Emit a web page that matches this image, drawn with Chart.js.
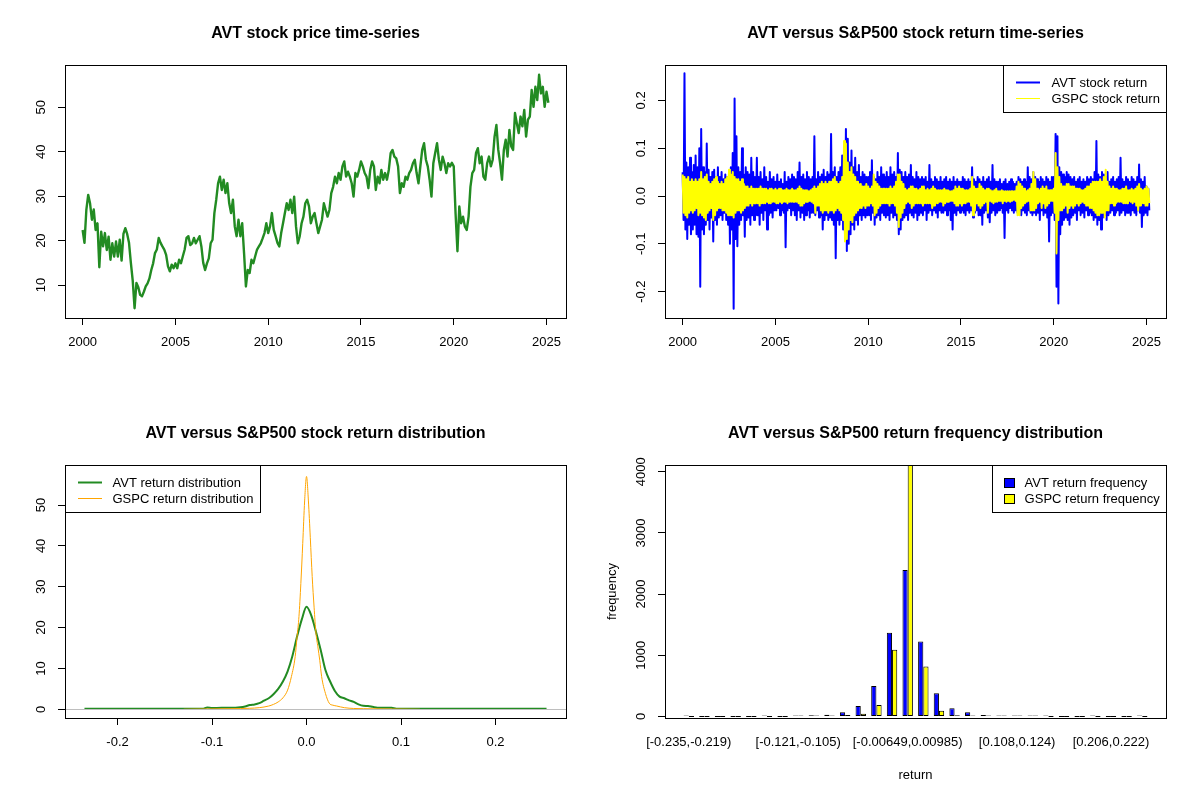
<!DOCTYPE html>
<html>
<head>
<meta charset="utf-8">
<script src="https://cdn.jsdelivr.net/npm/chart.js@4.4.1/dist/chart.umd.min.js"></script>
<style>
html,body{margin:0;padding:0;background:#ffffff;}
#wrap{position:relative;width:1200px;height:800px;background:#fff;overflow:hidden;}
.panel{position:absolute;width:600px;height:400px;}
canvas{display:block;}
</style>
</head>
<body>
<div id="wrap">
  <div class="panel" style="left:0;top:0"><canvas id="c1" width="600" height="400"></canvas></div>
  <div class="panel" style="left:600px;top:0"><canvas id="c2" width="600" height="400"></canvas></div>
  <div class="panel" style="left:0;top:400px"><canvas id="c3" width="600" height="400"></canvas></div>
  <div class="panel" style="left:600px;top:400px"><canvas id="c4" width="600" height="400"></canvas></div>
</div>
<script>
// ================= DATA =================
// Panel 1: AVT price, sampled every 0.1 year from 2000.0
const priceStartYear = 2000.0;
const priceStepYears = 0.1;
const priceValues = [
  22.4,19.5,26.9,30.3,28.4,24.7,27,22.4,23.9,14.0,
  22,18.7,21.7,17.9,20.9,15.7,19.4,16.4,19.8,16.4,
  20.2,15.5,21.5,22.8,21.5,19.5,15,11,4.8,10.5,
  9.5,7.8,7.5,8.5,9.7,10.4,11.5,13.4,14.9,17.2,
  18,20.6,19.5,18.7,18,16.8,14.2,13.1,14.6,13.8,
  14.9,13.8,15.7,14.9,16.5,18,20.6,21,19,19.4,
  20.6,19.4,20.2,21,18.7,15,13.4,14.9,16,19.4,
  20.2,26.2,29.2,32.9,34.4,31.4,33.7,30.7,32.9,28.4,
  26.2,29.2,23.2,21,24.7,21,23.9,17.2,9.7,13.4,
  12.7,15.7,14.9,16.5,18,18.7,19.4,20.5,21.7,23.9,
  21.7,23.2,26.2,22.4,21,19.5,18.7,21.7,23.9,26.2,
  28.4,26.9,29.2,26.2,29.9,23.2,19.4,21,23.9,25.4,
  28.4,29.2,27.7,23.9,25.4,26.2,23.9,21.7,23.2,24.7,
  28.4,26.9,25.4,26.9,30.7,32.1,34.4,32.9,35.2,33.7,
  36.7,37.8,34.4,35.5,34.4,32.9,29.9,35.2,34.4,35.9,
  37.8,36.7,35.2,34.4,31.8,35.9,37.8,36.7,31.4,34.4,
  32.9,35.9,33.7,35.2,33.7,35.9,39.7,40.4,38.9,38.5,
  36.7,30.7,32.9,32.1,34.4,33.7,35.2,35.9,37.4,38.2,
  35.2,32.9,36.7,40.4,41.9,38.2,36.7,33.7,29.9,37.4,
  39.7,41.9,38.2,35.9,38.9,37.4,35.2,37.4,36.7,37.5,
  36.7,26,17.6,27.7,23.9,25.4,23.2,22.4,25.4,32.1,
  35.2,35.9,39.7,40.8,37.4,38.9,34.4,33.7,37.4,38.9,
  36.7,38.2,43.4,46,40.4,37.4,33.7,40.4,42.7,38.9,
  44.9,41.2,40.4,48.7,46.4,44.2,47.9,45.7,49.4,43.4,
  47.2,47.9,53.9,50.1,54.6,51.6,57.3,53.1,54.6,50.1,
  53.5,51
];
const yearTicks = [2000, 2005, 2010, 2015, 2020, 2025];
const priceTicks = [10, 20, 30, 40, 50];

// Panel 2: daily return extremes per 0.1-year slice (high then low)
const returnStartYear = 2000.0;
const returnStepYears = 0.1;
const avtReturnHigh = [
  0.05,0.257,0.07,0.06,0.08,0.05,0.065,0.085,0.06,0.10,
  0.14,0.06,0.05,0.11,0.055,0.04,0.05,0.055,0.04,0.06,
  0.04,0.05,0.035,0.045,0.04,0.05,0.06,0.09,0.204,0.125,
  0.06,0.05,0.1,0.045,0.06,0.05,0.045,0.08,0.05,0.04,
  0.08,0.04,0.05,0.035,0.06,0.04,0.03,0.05,0.035,0.04,
  0.03,0.045,0.03,0.035,0.025,0.05,0.03,0.04,0.035,0.045,
  0.04,0.035,0.05,0.07,0.04,0.045,0.035,0.05,0.04,0.035,
  0.04,0.125,0.035,0.05,0.04,0.045,0.055,0.04,0.05,0.045,
  0.13,0.05,0.06,0.04,0.05,0.06,0.085,0.05,0.14,0.12,
  0.07,0.095,0.06,0.08,0.05,0.065,0.04,0.05,0.045,0.04,
  0.04,0.05,0.075,0.04,0.035,0.05,0.04,0.06,0.045,0.04,
  0.05,0.04,0.06,0.045,0.05,0.04,0.09,0.055,0.05,0.04,
  0.05,0.04,0.045,0.065,0.04,0.035,0.05,0.04,0.035,0.04,
  0.035,0.04,0.03,0.065,0.035,0.03,0.04,0.035,0.03,0.04,
  0.03,0.035,0.04,0.03,0.035,0.03,0.04,0.03,0.035,0.03,
  0.03,0.04,0.035,0.03,0.035,0.03,0.06,0.035,0.03,0.04,
  0.035,0.03,0.04,0.03,0.035,0.04,0.03,0.065,0.035,0.03,
  0.03,0.035,0.025,0.03,0.035,0.025,0.03,0.035,0.03,0.025,
  0.03,0.04,0.035,0.03,0.035,0.03,0.06,0.04,0.035,0.05,
  0.04,0.035,0.03,0.04,0.035,0.03,0.04,0.035,0.03,0.04,
  0.04,0.13,0.125,0.06,0.05,0.045,0.04,0.05,0.045,0.04,
  0.035,0.04,0.03,0.035,0.04,0.03,0.035,0.03,0.04,0.035,
  0.04,0.035,0.05,0.115,0.045,0.04,0.05,0.045,0.04,0.05,
  0.03,0.035,0.04,0.03,0.035,0.04,0.08,0.035,0.03,0.04,
  0.035,0.03,0.04,0.035,0.03,0.04,0.066,0.035,0.03,0.04,
  0.02,0.015
];
const avtReturnLow = [
  -0.05,-0.07,-0.09,-0.06,-0.08,-0.07,-0.06,-0.08,-0.085,-0.19,
  -0.07,-0.08,-0.06,-0.05,-0.07,-0.045,-0.095,-0.05,-0.06,-0.045,
  -0.04,-0.05,-0.035,-0.05,-0.06,-0.1,-0.07,-0.236,-0.09,-0.105,
  -0.06,-0.05,-0.04,-0.085,-0.05,-0.045,-0.06,-0.04,-0.05,-0.04,
  -0.04,-0.06,-0.035,-0.05,-0.03,-0.07,-0.04,-0.035,-0.045,-0.03,
  -0.03,-0.025,-0.04,-0.03,-0.035,-0.107,-0.03,-0.025,-0.04,-0.03,
  -0.04,-0.05,-0.03,-0.045,-0.035,-0.05,-0.04,-0.03,-0.045,-0.035,
  -0.035,-0.04,-0.03,-0.045,-0.04,-0.07,-0.05,-0.04,-0.05,-0.045,
  -0.05,-0.06,-0.13,-0.05,-0.06,-0.05,-0.07,-0.08,-0.115,-0.1,
  -0.08,-0.06,-0.07,-0.05,-0.06,-0.04,-0.05,-0.04,-0.045,-0.04,
  -0.04,-0.05,-0.035,-0.06,-0.045,-0.04,-0.05,-0.035,-0.04,-0.045,
  -0.04,-0.05,-0.035,-0.045,-0.04,-0.05,-0.08,-0.07,-0.05,-0.045,
  -0.04,-0.05,-0.035,-0.04,-0.045,-0.035,-0.05,-0.04,-0.035,-0.04,
  -0.03,-0.05,-0.035,-0.03,-0.04,-0.03,-0.035,-0.045,-0.03,-0.035,
  -0.035,-0.03,-0.04,-0.03,-0.05,-0.07,-0.035,-0.04,-0.03,-0.035,
  -0.03,-0.035,-0.04,-0.03,-0.035,-0.03,-0.045,-0.035,-0.03,-0.04,
  -0.04,-0.06,-0.035,-0.03,-0.045,-0.055,-0.035,-0.03,-0.04,-0.035,
  -0.03,-0.025,-0.035,-0.088,-0.03,-0.035,-0.025,-0.03,-0.035,-0.03,
  -0.035,-0.03,-0.04,-0.03,-0.035,-0.04,-0.03,-0.035,-0.04,-0.035,
  -0.04,-0.035,-0.05,-0.03,-0.04,-0.035,-0.045,-0.095,-0.04,-0.035,
  -0.05,-0.19,-0.225,-0.08,-0.06,-0.05,-0.045,-0.05,-0.06,-0.045,
  -0.04,-0.035,-0.05,-0.03,-0.04,-0.035,-0.045,-0.03,-0.04,-0.035,
  -0.04,-0.05,-0.045,-0.06,-0.05,-0.07,-0.045,-0.04,-0.05,-0.04,
  -0.035,-0.03,-0.04,-0.035,-0.03,-0.04,-0.035,-0.03,-0.04,-0.035,
  -0.035,-0.04,-0.03,-0.035,-0.04,-0.03,-0.035,-0.065,-0.04,-0.035,
  -0.04,-0.03
];
const gspcReturnHigh = [
  0.045,0.04,0.035,0.04,0.03,0.035,0.03,0.035,0.03,0.035,
  0.05,0.035,0.04,0.045,0.03,0.025,0.03,0.035,0.04,0.03,
  0.025,0.03,0.025,0.035,0.04,0.055,0.045,0.05,0.04,0.035,
  0.035,0.03,0.035,0.025,0.02,0.02,0.015,0.02,0.015,0.015,
  0.015,0.015,0.02,0.015,0.015,0.015,0.012,0.015,0.015,0.012,
  0.015,0.012,0.015,0.015,0.012,0.012,0.015,0.012,0.012,0.015,
  0.012,0.012,0.015,0.02,0.015,0.012,0.012,0.012,0.01,0.012,
  0.015,0.02,0.015,0.02,0.025,0.03,0.025,0.03,0.025,0.03,
  0.03,0.035,0.04,0.03,0.025,0.03,0.04,0.115,0.11,0.07,
  0.05,0.06,0.045,0.04,0.03,0.025,0.025,0.02,0.02,0.025,
  0.02,0.015,0.02,0.045,0.03,0.025,0.02,0.015,0.015,0.015,
  0.015,0.015,0.02,0.015,0.02,0.03,0.045,0.045,0.03,0.025,
  0.015,0.012,0.015,0.02,0.02,0.015,0.015,0.012,0.015,0.02,
  0.02,0.012,0.015,0.012,0.015,0.02,0.015,0.012,0.012,0.012,
  0.012,0.015,0.012,0.012,0.01,0.01,0.012,0.02,0.015,0.02,
  0.015,0.015,0.012,0.012,0.012,0.015,0.04,0.02,0.015,0.015,
  0.025,0.02,0.015,0.012,0.015,0.015,0.012,0.01,0.012,0.015,
  0.01,0.01,0.012,0.01,0.01,0.01,0.01,0.01,0.01,0.01,
  0.02,0.03,0.025,0.02,0.015,0.01,0.012,0.015,0.025,0.05,
  0.035,0.015,0.012,0.015,0.02,0.015,0.02,0.012,0.012,0.012,
  0.015,0.09,0.06,0.04,0.025,0.02,0.02,0.025,0.025,0.02,
  0.02,0.02,0.015,0.015,0.015,0.012,0.012,0.015,0.02,0.02,
  0.025,0.03,0.03,0.03,0.03,0.035,0.03,0.04,0.055,0.03,
  0.02,0.015,0.02,0.015,0.015,0.012,0.012,0.015,0.015,0.02,
  0.012,0.012,0.015,0.012,0.015,0.02,0.025,0.015,0.012,0.015,
  0.02,0.015
];
const gspcReturnLow = [
  -0.035,-0.04,-0.045,-0.035,-0.03,-0.035,-0.03,-0.025,-0.04,-0.035,
  -0.04,-0.045,-0.05,-0.035,-0.03,-0.025,-0.05,-0.04,-0.03,-0.025,
  -0.025,-0.03,-0.03,-0.035,-0.04,-0.04,-0.04,-0.045,-0.035,-0.03,
  -0.03,-0.035,-0.03,-0.025,-0.02,-0.02,-0.015,-0.02,-0.015,-0.015,
  -0.015,-0.02,-0.015,-0.015,-0.015,-0.012,-0.015,-0.015,-0.012,-0.012,
  -0.015,-0.015,-0.012,-0.015,-0.012,-0.012,-0.015,-0.012,-0.012,-0.012,
  -0.012,-0.012,-0.015,-0.02,-0.02,-0.015,-0.012,-0.012,-0.01,-0.012,
  -0.015,-0.035,-0.02,-0.02,-0.03,-0.035,-0.03,-0.03,-0.035,-0.03,
  -0.03,-0.035,-0.03,-0.025,-0.03,-0.035,-0.05,-0.095,-0.09,-0.07,
  -0.05,-0.055,-0.04,-0.035,-0.03,-0.025,-0.025,-0.02,-0.025,-0.02,
  -0.02,-0.015,-0.02,-0.04,-0.035,-0.025,-0.02,-0.015,-0.015,-0.015,
  -0.015,-0.02,-0.015,-0.015,-0.02,-0.035,-0.065,-0.045,-0.035,-0.025,
  -0.015,-0.012,-0.015,-0.025,-0.02,-0.015,-0.015,-0.015,-0.015,-0.02,
  -0.015,-0.015,-0.015,-0.015,-0.025,-0.02,-0.015,-0.015,-0.012,-0.012,
  -0.02,-0.015,-0.012,-0.012,-0.01,-0.01,-0.015,-0.02,-0.02,-0.015,
  -0.02,-0.015,-0.015,-0.012,-0.012,-0.02,-0.04,-0.03,-0.015,-0.02,
  -0.025,-0.02,-0.015,-0.012,-0.035,-0.01,-0.012,-0.015,-0.012,-0.012,
  -0.01,-0.01,-0.015,-0.01,-0.012,-0.01,-0.012,-0.01,-0.008,-0.01,
  -0.04,-0.04,-0.025,-0.02,-0.015,-0.012,-0.01,-0.03,-0.03,-0.03,
  -0.025,-0.015,-0.012,-0.025,-0.015,-0.025,-0.02,-0.015,-0.01,-0.01,
  -0.035,-0.12,-0.05,-0.03,-0.03,-0.025,-0.02,-0.035,-0.025,-0.02,
  -0.025,-0.02,-0.015,-0.02,-0.015,-0.012,-0.015,-0.02,-0.02,-0.025,
  -0.025,-0.03,-0.035,-0.04,-0.04,-0.035,-0.035,-0.045,-0.03,-0.03,
  -0.015,-0.015,-0.02,-0.015,-0.012,-0.012,-0.012,-0.015,-0.015,-0.015,
  -0.01,-0.012,-0.015,-0.012,-0.02,-0.03,-0.02,-0.015,-0.015,-0.02,
  -0.02,-0.015
];
const returnTicks = [-0.2, -0.1, 0, 0.1, 0.2];
const returnTickLabels = ['-0.2', '-0.1', '0.0', '0.1', '0.2'];

// Panel 3: return densities
const avtDensX = [-0.235,-0.11,-0.105,-0.1,-0.09,-0.08,-0.07,-0.065,-0.06,-0.055,-0.05,-0.045,-0.04,-0.035,-0.03,-0.025,-0.02,-0.015,-0.01,-0.005,0,0.005,0.01,0.015,0.02,0.025,0.03,0.035,0.04,0.045,0.05,0.055,0.06,0.065,0.07,0.075,0.09,0.095,0.1,0.254];
const avtDensY = [0.15,0.15,0.45,0.3,0.35,0.35,0.5,0.7,1.05,1.2,1.5,2.1,2.7,3.7,5.0,6.8,9.3,13.0,17.8,22.0,25.1,23.0,19.0,14.5,9.6,6.8,4.5,3.1,2.7,2.2,1.8,1.2,0.85,0.8,0.6,0.4,0.35,0.15,0.15,0.15];
const gspcDensX = [-0.13,-0.1,-0.08,-0.06,-0.05,-0.04,-0.035,-0.03,-0.025,-0.02,-0.016,-0.012,-0.01,-0.008,-0.006,-0.004,-0.002,0,0.002,0.004,0.006,0.008,0.01,0.012,0.014,0.016,0.02,0.024,0.028,0.032,0.04,0.05,0.06,0.08,0.12];
const gspcDensY = [0,0.1,0.15,0.25,0.4,0.8,1.2,1.8,2.8,4.7,8,12.9,17.8,22.7,30.8,40.6,51,57,51,42,32.5,25,18.6,15.3,12,8,3.9,1.5,1.0,0.8,0.4,0.2,0.15,0.1,0];
const densityXTicks = [-0.2, -0.1, 0, 0.1, 0.2];
const densityXTickLabels = ['-0.2', '-0.1', '0.0', '0.1', '0.2'];
const densityYTicks = [0, 10, 20, 30, 40, 50];

// Panel 4: return frequency per bin (30 bins)
const avtFreq  = [1,0,0,0,0,1,0,12,18,30,70,173,497,1368,2395,1227,378,135,70,22,15,12,10,1,0,0,1,0,0,1];
const gspcFreq = [0,0,0,0,0,0,0,1,2,3,22,43,189,1092,4110,816,92,20,16,5,2,2,1,0,0,0,0,0,0,0];
const histLabelBins = [0, 7, 14, 21, 27];
const histLabels = ['[-0.235,-0.219)', '[-0.121,-0.105)', '[-0.00649,0.00985)', '[0.108,0.124)', '[0.206,0.222)'];
const freqTicks = [0, 1000, 2000, 3000, 4000];

// ================= STYLE / HELPERS =================
const FONT = "'Liberation Sans', Arial, Helvetica, sans-serif";
const TXT = 13;
Chart.defaults.font.family = FONT;
Chart.defaults.font.size = TXT;
Chart.defaults.color = '#000';

const framePlugin = {
  id: 'frame',
  afterDraw(chart) {
    const {ctx, chartArea: a} = chart;
    ctx.save();
    ctx.strokeStyle = '#000';
    ctx.lineWidth = 1;
    ctx.strokeRect(Math.round(a.left) + 0.5, Math.round(a.top) + 0.5,
                   Math.round(a.right) - Math.round(a.left), Math.round(a.bottom) - Math.round(a.top));
    ctx.restore();
  }
};

const zeroLinePlugin = {
  id: 'zeroLine',
  afterDatasetsDraw(chart, args, opts) {
    if (!opts || !opts.color) return;
    const {ctx, chartArea: a} = chart;
    const y = Math.round(chart.scales.y.getPixelForValue(0)) + 0.5;
    ctx.save();
    ctx.strokeStyle = opts.color;
    ctx.lineWidth = 1;
    ctx.beginPath();
    ctx.moveTo(a.left, y);
    ctx.lineTo(a.right, y);
    ctx.stroke();
    ctx.restore();
  }
};

const rLegendPlugin = {
  id: 'rlegend',
  afterDraw(chart, args, opts) {
    if (!opts || !opts.corner) return;
    const {ctx, chartArea: a} = chart;
    const items = chart.data.datasets.map(d => ({
      label: d.label,
      color: opts.symbol === 'box' ? d.backgroundColor : d.borderColor,
      width: d.legendWidth || d.borderWidth
    }));
    ctx.save();
    ctx.font = TXT + 'px ' + FONT;
    const textW = Math.max(...items.map(it => ctx.measureText(it.label).width));
    const w = Math.round(opts.textX + textW + 6.5);
    const h = 47;
    const x0 = opts.corner === 'topleft' ? Math.round(a.left) : Math.round(a.right) - w;
    const y0 = Math.round(a.top);
    ctx.fillStyle = '#fff';
    ctx.fillRect(x0, y0, w, h);
    ctx.strokeStyle = '#000';
    ctx.lineWidth = 1;
    ctx.strokeRect(x0 + 0.5, y0 + 0.5, w, h);
    items.forEach((it, i) => {
      const y = y0 + 17 + i * 16;
      if (opts.symbol === 'line') {
        ctx.strokeStyle = it.color;
        ctx.lineWidth = it.width;
        ctx.beginPath();
        ctx.moveTo(x0 + 13, y + 0.5);
        ctx.lineTo(x0 + 37, y + 0.5);
        ctx.stroke();
      } else {
        ctx.fillStyle = it.color;
        ctx.fillRect(x0 + 12, y - 4, 10, 9);
        ctx.strokeStyle = '#000';
        ctx.lineWidth = 1;
        ctx.strokeRect(x0 + 12.5, y - 3.5, 10, 9);
      }
      ctx.fillStyle = '#000';
      ctx.textAlign = 'left';
      ctx.textBaseline = 'middle';
      ctx.fillText(it.label, x0 + opts.textX, y + 1.5);
    });
    ctx.restore();
  }
};

function fixedTicks(values) {
  return function (scale) { scale.ticks = values.map(v => ({value: v})); };
}
function labelFrom(values, labels) {
  return function (v) { const i = values.indexOf(v); return i >= 0 ? labels[i] : ''; };
}
function makeX(min, max, ticks, fmt, withMarks, title) {
  const s = {
    type: 'linear', min: min, max: max, offset: false, bounds: 'data',
    afterBuildTicks: fixedTicks(ticks),
    afterFit: function (sc) { sc.height = 82; },
    border: {display: false},
    grid: withMarks
      ? {display: true, drawOnChartArea: false, drawTicks: true, tickLength: 7, color: '#000', lineWidth: 1}
      : {display: false, drawTicks: false},
    ticks: {autoSkip: false, maxRotation: 0, minRotation: 0, padding: withMarks ? 9.5 : 16.5,
            color: '#000', font: {size: TXT, family: FONT}, callback: fmt}
  };
  if (title) s.title = {display: true, text: title, color: '#000', font: {size: TXT, family: FONT}, padding: {top: 0, bottom: 17.2}};
  return s;
}
function makeY(min, max, ticks, fmt, pad, title) {
  const s = {
    type: 'linear', min: min, max: max, bounds: 'data',
    afterBuildTicks: fixedTicks(ticks),
    afterFit: function (sc) { sc.width = 65; },
    border: {display: false},
    grid: {display: true, drawOnChartArea: false, drawTicks: true, tickLength: 7, color: '#000', lineWidth: 1},
    ticks: {autoSkip: false, minRotation: 90, maxRotation: 90, crossAlign: 'center', padding: pad,
            color: '#000', font: {size: TXT, family: FONT}, callback: fmt}
  };
  if (title) s.title = {display: true, text: title, color: '#000', font: {size: TXT, family: FONT}, padding: {top: 4.2, bottom: 0}};
  return s;
}
function titleOpts(text) {
  return {display: true, text: text, fullSize: false, color: '#000',
          font: {size: 16, weight: 'bold', family: FONT},
          padding: {top: 24.4, bottom: 21.4}};
}
function baseOptions(titleText) {
  return {
    responsive: false, maintainAspectRatio: false, animation: false, devicePixelRatio: 1,
    layout: {padding: {left: 0, right: 34, top: 0, bottom: 0}},
    plugins: {legend: {display: false}, tooltip: {enabled: false}, title: titleOpts(titleText)}
  };
}
function zigzag(high, low, start, step) {
  const pts = [];
  for (let i = 0; i < high.length; i++) {
    pts.push({x: start + i * step, y: high[i]});
    pts.push({x: start + i * step + step / 2, y: low[i]});
  }
  return pts;
}
const numLabel = v => String(v);

// ================= PANEL 1 =================
(function () {
  const o = baseOptions('AVT stock price time-series');
  o.scales = {
    x: makeX(1999.05, 2026.05, yearTicks, numLabel, true),
    y: makeY(2.6, 59.5, priceTicks, numLabel, 9.8)
  };
  new Chart(document.getElementById('c1'), {
    type: 'line',
    data: {datasets: [{
      label: 'AVT stock price',
      data: priceValues.map((v, i) => ({x: priceStartYear + i * priceStepYears, y: v})),
      borderColor: '#228B22', borderWidth: 2.4, pointRadius: 0, fill: false, tension: 0,
      borderJoinStyle: 'round'
    }]},
    options: o,
    plugins: [framePlugin]
  });
})();

// ================= PANEL 2 =================
(function () {
  const o = baseOptions('AVT versus S&P500 stock return time-series');
  o.scales = {
    x: makeX(1999.05, 2026.05, yearTicks, numLabel, true),
    y: makeY(-0.2552, 0.2741, returnTicks, labelFrom(returnTicks, returnTickLabels), 5.8)
  };
  o.plugins.rlegend = {corner: 'topright', symbol: 'line', textX: 48.5};
  new Chart(document.getElementById('c2'), {
    type: 'line',
    data: {datasets: [
      {label: 'AVT stock return', data: zigzag(avtReturnHigh, avtReturnLow, returnStartYear, returnStepYears),
       borderColor: '#0000FF', borderWidth: 2, legendWidth: 2, pointRadius: 0, fill: false, tension: 0, order: 1, borderJoinStyle: 'round'},
      {label: 'GSPC stock return', data: zigzag(gspcReturnHigh, gspcReturnLow, returnStartYear, returnStepYears),
       borderColor: '#FFFF00', borderWidth: 2, legendWidth: 1, pointRadius: 0, fill: false, tension: 0, order: 0, borderJoinStyle: 'round'}
    ]},
    options: o,
    plugins: [framePlugin, rLegendPlugin]
  });
})();

// ================= PANEL 3 =================
(function () {
  const o = baseOptions('AVT versus S&P500 stock return distribution');
  o.scales = {
    x: makeX(-0.2556, 0.2746, densityXTicks, labelFrom(densityXTicks, densityXTickLabels), true),
    y: makeY(-2.13, 59.8, densityYTicks, numLabel, 9.8)
  };
  o.plugins.rlegend = {corner: 'topleft', symbol: 'line', textX: 47.5};
  o.plugins.zeroLine = {color: '#BEBEBE'};
  new Chart(document.getElementById('c3'), {
    type: 'line',
    data: {datasets: [
      {label: 'AVT return distribution', data: avtDensX.map((x, i) => ({x: x, y: avtDensY[i]})),
       borderColor: '#228B22', borderWidth: 2, pointRadius: 0, fill: false, cubicInterpolationMode: 'monotone', order: 1},
      {label: 'GSPC return distribution', data: gspcDensX.map((x, i) => ({x: x, y: gspcDensY[i]})),
       borderColor: '#FFA500', borderWidth: 1, pointRadius: 0, fill: false, cubicInterpolationMode: 'monotone', order: 0}
    ]},
    options: o,
    plugins: [zeroLinePlugin, framePlugin, rLegendPlugin]
  });
})();

// ================= PANEL 4 =================
(function () {
  const o = baseOptions('AVT versus S&P500 return frequency distribution');
  o.scales = {
    x: makeX(-1.52, 30.52, histLabelBins, labelFrom(histLabelBins, histLabels), false, 'return'),
    y: makeY(-25, 4110, freqTicks, numLabel, 2.6, 'frequency')
  };
  o.plugins.rlegend = {corner: 'topright', symbol: 'box', textX: 32.6};
  const barStyle = {borderColor: '#000', borderWidth: 1, borderSkipped: false, minBarLength: 1,
                    categoryPercentage: 2 / 3, barPercentage: 1};
  new Chart(document.getElementById('c4'), {
    type: 'bar',
    data: {datasets: [
      Object.assign({label: 'AVT return frequency', backgroundColor: '#0000FF',
                     data: avtFreq.map((v, i) => ({x: i, y: v}))}, barStyle),
      Object.assign({label: 'GSPC return frequency', backgroundColor: '#FFFF00',
                     data: gspcFreq.map((v, i) => ({x: i, y: v}))}, barStyle)
    ]},
    options: o,
    plugins: [framePlugin, rLegendPlugin]
  });
})();
</script>
</body>
</html>
